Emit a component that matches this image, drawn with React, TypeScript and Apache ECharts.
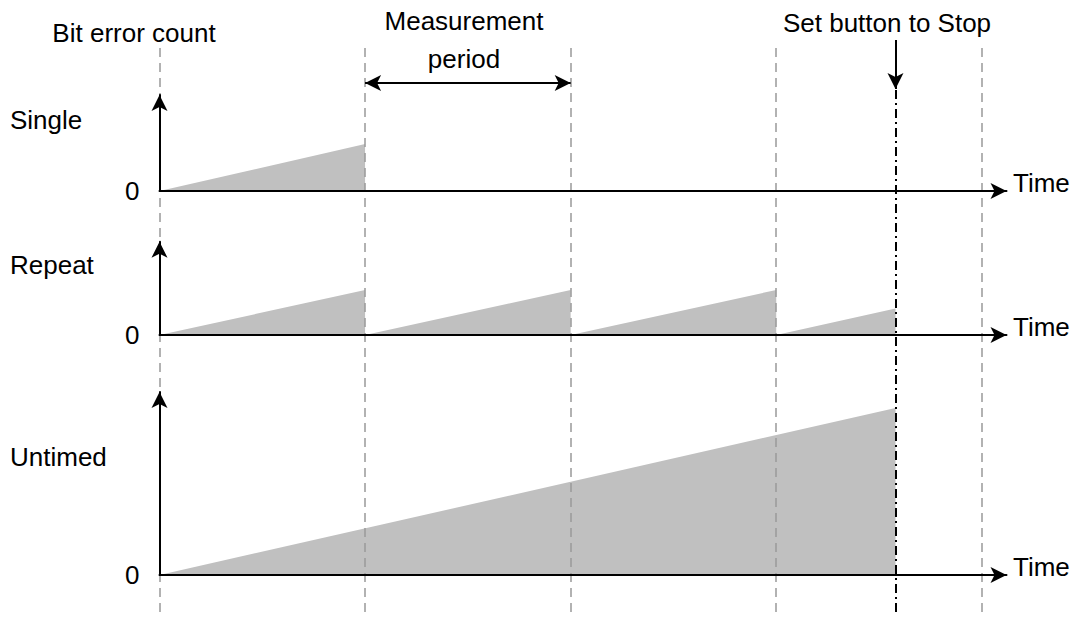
import React, { useEffect, useRef } from "react";
import * as echarts from "echarts";

// time in measurement periods, counts in arbitrary units
const periodMarks = [0, 1, 2, 3, 4];
const stopTime = 3.58;
const timeMax = 4.12;

const singleTimes = [0, 1];
const singleCounts = [0, 47];

const repeatTimes = [0, 1, 1, 2, 2, 3, 3, 3.58];
const repeatCounts = [0, 45, 0, 45, 0, 45, 0, 26.5];

const untimedTimes = [0, 3.58];
const untimedCounts = [0, 167];

const panelNames = ["Single", "Repeat", "Untimed"];
const panelYMax = [96, 93.3, 183];
const zeroLabel = "0";
const axisName = "Time";
const yTitle = "Bit error count";
const periodTitle = ["Measurement", "period"];
const stopTitle = "Set button to Stop";

const FONT = "Liberation Sans";
const FS = 26;

export default function App() {
  const ref = useRef<HTMLDivElement>(null);
  useEffect(() => {
    if (!ref.current) return;
    const chart = echarts.init(ref.current, null, { renderer: "svg" });
    const gridLeft = 159.5;
    const gridRight = 73.5;
    const grids = [
      { left: gridLeft, right: gridRight, top: 95, height: 96 },
      { left: gridLeft, right: gridRight, top: 241.7, height: 93.3 },
      { left: gridLeft, right: gridRight, top: 392, height: 183 },
      { left: gridLeft, right: gridRight, top: 0, height: 621 },
    ];
    const axisLine = {
      show: true,
      symbol: ["none", "arrow"],
      symbolSize: [12, 16],
      lineStyle: { color: "#000", width: 2 },
    };
    const xAxes: any[] = [0, 1, 2].map((i) => ({
      type: "value",
      gridIndex: i,
      min: 0,
      max: timeMax,
      z: 10,
      axisLine,
      axisTick: { show: false },
      axisLabel: { show: false },
      splitLine: { show: false },
    }));
    xAxes.push({
      type: "value",
      gridIndex: 3,
      min: 0,
      max: timeMax,
      show: false,
    });
    const yAxes: any[] = [0, 1, 2].map((i) => ({
      type: "value",
      gridIndex: i,
      min: 0,
      max: panelYMax[i],
      z: 10,
      axisLine,
      axisTick: { show: false },
      splitLine: { show: false },
      axisLabel: {
        formatter: (v: number) => (v === 0 ? zeroLabel : ""),
        fontFamily: FONT,
        fontSize: FS,
        color: "#000",
        margin: 20,
      },
    }));
    yAxes.push({
      type: "value",
      gridIndex: 3,
      min: 0,
      max: 621,
      inverse: true,
      show: false,
    });

    const area = (idx: number, times: number[], counts: number[]) => ({
      type: "line",
      xAxisIndex: idx,
      yAxisIndex: idx,
      data: times.map((t, k) => [t, counts[k]]),
      showSymbol: false,
      symbol: "none",
      lineStyle: { width: 0 },
      areaStyle: { color: "#c0c0c0", opacity: 1 },
      z: 2,
      silent: true,
    });

    const markSeries = (data: any[], lineStyle: any, symbol: string[]) => ({
      type: "line",
      xAxisIndex: 3,
      yAxisIndex: 3,
      data: [],
      z: 5,
      markLine: {
        silent: true,
        symbol,
        symbolSize: [12, 16],
        label: { show: false },
        lineStyle,
        data,
        animation: false,
      },
    });

    const text = (t: string, x: number, y: number, align: string) => ({
      type: "text",
      x,
      y,
      style: {
        text: t,
        fontFamily: FONT,
        fontSize: FS,
        fill: "#000",
        align,
        verticalAlign: "middle",
      },
    });

    chart.setOption({
      animation: false,
      backgroundColor: "#fff",
      grid: grids,
      xAxis: xAxes,
      yAxis: yAxes,
      series: [
        area(0, singleTimes, singleCounts),
        area(1, repeatTimes, repeatCounts),
        area(2, untimedTimes, untimedCounts),
        markSeries(
          periodMarks.map((t) => [{ coord: [t, 48] }, { coord: [t, 615] }]),
          { color: "#999", type: [9, 6], width: 1.5 },
          ["none", "none"]
        ),
        markSeries(
          [[{ coord: [stopTime, 90] }, { coord: [stopTime, 615] }]],
          { color: "#000", type: [9, 4, 2, 4], width: 2 },
          ["none", "none"]
        ),
        markSeries(
          [[{ coord: [stopTime, 40] }, { coord: [stopTime, 89] }]],
          { color: "#000", type: "solid", width: 2 },
          ["none", "arrow"]
        ),
        markSeries(
          [[{ coord: [periodMarks[1], 83] }, { coord: [periodMarks[2], 83] }]],
          { color: "#000", type: "solid", width: 2 },
          ["arrow", "arrow"]
        ),
      ],
      graphic: [
        text(yTitle, 134, 33, "center"),
        text(periodTitle[0], 464, 20.5, "center"),
        text(periodTitle[1], 464, 59, "center"),
        text(stopTitle, 887, 23, "center"),
        text(panelNames[0], 10, 120, "left"),
        text(panelNames[1], 10, 265, "left"),
        text(panelNames[2], 10, 457, "left"),
        text(axisName, 1013, 183, "left"),
        text(axisName, 1013, 327, "left"),
        text(axisName, 1013, 567, "left"),
      ],
    });
    return () => chart.dispose();
  }, []);
  return (
    <div
      ref={ref}
      style={{ position: "fixed", left: 0, top: 0, width: 1080, height: 621 }}
    />
  );
}
